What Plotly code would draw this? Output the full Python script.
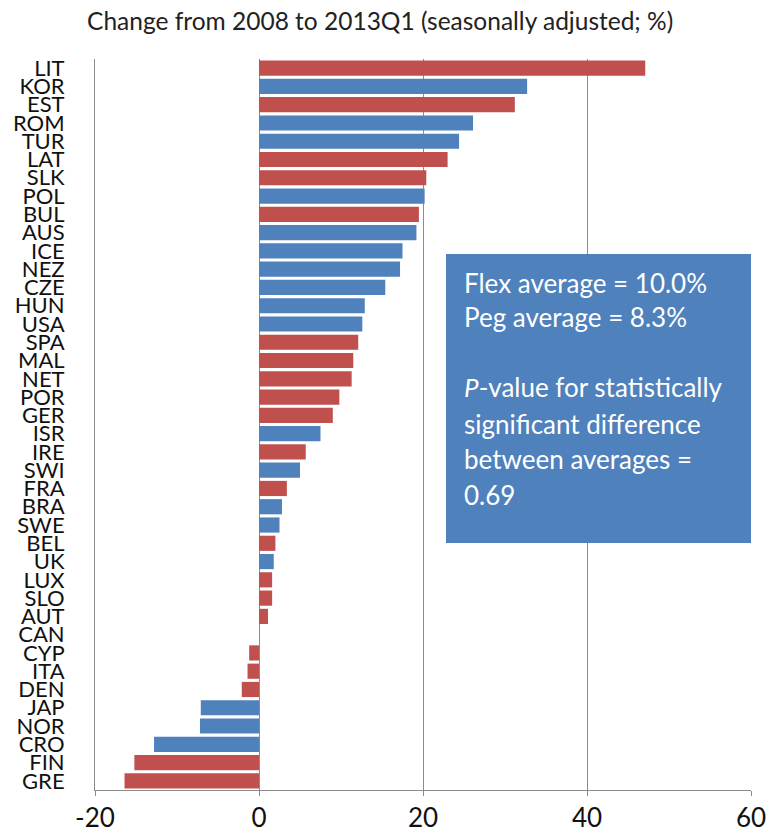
import plotly.graph_objects as go

countries = ["LIT", "KOR", "EST", "ROM", "TUR", "LAT", "SLK", "POL", "BUL", "AUS",
             "ICE", "NEZ", "CZE", "HUN", "USA", "SPA", "MAL", "NET", "POR", "GER",
             "ISR", "IRE", "SWI", "FRA", "BRA", "SWE", "BEL", "UK", "LUX", "SLO",
             "AUT", "CAN", "CYP", "ITA", "DEN", "JAP", "NOR", "CRO", "FIN", "GRE"]
values = [47.1, 32.7, 31.2, 26.1, 24.4, 23.0, 20.4, 20.2, 19.5, 19.2,
          17.5, 17.2, 15.4, 12.9, 12.6, 12.1, 11.5, 11.3, 9.8, 9.0,
          7.5, 5.7, 5.0, 3.4, 2.8, 2.5, 2.0, 1.8, 1.6, 1.6,
          1.1, 0.0, -1.2, -1.4, -2.1, -7.1, -7.2, -12.8, -15.2, -16.4]
regime = ["peg", "flex", "peg", "flex", "flex", "peg", "peg", "flex", "peg", "flex",
          "flex", "flex", "flex", "flex", "flex", "peg", "peg", "peg", "peg", "peg",
          "flex", "peg", "flex", "peg", "flex", "flex", "peg", "flex", "peg", "peg",
          "peg", "flex", "peg", "peg", "peg", "flex", "flex", "flex", "peg", "peg"]
x_ticks = [-20, 0, 20, 40, 60]
x_tick_labels = ["-20", "0", "20", "40", "60"]

title_text = "Change from 2008 to 2013Q1 (seasonally adjusted; %)"
box_lines = ["Flex average = 10.0%", "Peg average = 8.3%", "",
             "<i>P</i>-value for statistically", "significant difference",
             "between averages =", "0.69"]

colors = {"peg": "#C0504D", "flex": "#4F81BD"}
FONT = "Lato"

fig = go.Figure(go.Bar(
    x=values, y=countries, orientation="h",
    marker=dict(color=[colors[r] for r in regime], line=dict(width=0)),
))

fig.update_layout(
    width=779, height=839,
    margin=dict(l=95, r=28, t=59, b=49, autoexpand=False),
    plot_bgcolor="white", paper_bgcolor="white",
    showlegend=False, bargap=0.17,
    font=dict(family=FONT, color="#222222"),
    title=dict(text=title_text, x=0.488, xref="container", xanchor="center",
               y=0.974, yref="container", yanchor="middle",
               font=dict(family=FONT, size=24.5, color="#222222")),
    xaxis=dict(range=[-20, 60], tickmode="array", tickvals=x_ticks, ticktext=x_tick_labels,
               showgrid=True, gridcolor="#8C8C8C", automargin=False,
               gridwidth=1, zeroline=True, zerolinecolor="#8C8C8C", zerolinewidth=1,
               showline=True, linecolor="#8C8C8C", linewidth=1, ticks="outside",
               ticklen=5, tickcolor="#8C8C8C", ticklabelstandoff=0,
               tickfont=dict(family=FONT, size=26, color="#111111"),
               fixedrange=True),
    yaxis=dict(type="category", autorange="reversed", tickmode="array",
               tickvals=countries, ticktext=countries, showgrid=False, automargin=False,
               showline=True, linecolor="#8C8C8C", linewidth=1, ticks="",
               ticklabelstandoff=25,
               tickfont=dict(family=FONT, size=22, color="#111111")),
)

# text box
fig.add_shape(type="rect", xref="paper", yref="paper",
              x0=(446 - 95) / 656, x1=1.0, y0=(790 - 543) / 731, y1=(790 - 254) / 731,
              fillcolor="#4F81BD", line=dict(width=0), layer="above")
line_y = [283, 317, 352, 387, 424, 459, 495]
for txt, yy in zip(box_lines, line_y):
    if not txt:
        continue
    fig.add_annotation(text=txt, xref="paper", yref="paper",
                       x=(462 - 95) / 656, y=(790 - yy) / 731, xanchor="left", yanchor="middle",
                       showarrow=False, font=dict(family=FONT, size=26, color="white"))

fig.write_html("out.html")
